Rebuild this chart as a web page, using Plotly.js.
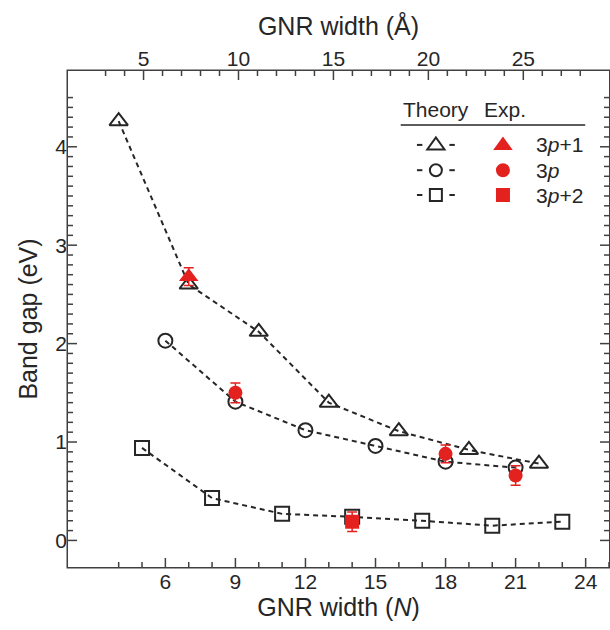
<!DOCTYPE html>
<html>
<head>
<meta charset="utf-8">
<script src="https://cdn.plot.ly/plotly-3.0.1.min.js"></script>
<style>
html,body{margin:0;padding:0;background:#fff;}
#chart{width:610px;height:630px;}
</style>
</head>
<body>
<div id="chart"></div>
<script>
// ---- data ----
const nTri = [4, 7, 10, 13, 16, 19, 22];
const gapTri = [4.26, 2.60, 2.12, 1.40, 1.11, 0.92, 0.78];
const nCirc = [6, 9, 12, 15, 18, 21];
const gapCirc = [2.03, 1.41, 1.12, 0.96, 0.80, 0.74];
const nSq = [5, 8, 11, 14, 17, 20, 23];
const gapSq = [0.94, 0.43, 0.27, 0.24, 0.20, 0.15, 0.19];

const expTriN = [7];
const expTriGap = [2.68];
const expTriErr = [0.09];
const expCircN = [9, 18, 21];
const expCircGap = [1.50, 0.88, 0.66];
const expCircErr = [0.10, 0.09, 0.10];
const expSqN = [14];
const expSqGap = [0.19];
const expSqErr = [0.10];

const xTicksN = [6, 9, 12, 15, 18, 21, 24];
const xTicksA = [5, 10, 15, 20, 25];
const yTicks = [0, 1, 2, 3, 4];

// ---- style ----
const RED = '#e3221f';
const INK = '#262626';
const AXC = '#404040';
const FONT = 'Liberation Sans, Arial, sans-serif';
const xRange = [1.83, 25.0];
const angPerN = 1.2297; // width(Å) = (N-1)*1.2297
const x2Range = xRange.map(v => (v - 1) * angPerN);
const yRange = [-0.27, 4.77];

function range(a, b, s) { const r = []; for (let v = a; v <= b + 1e-9; v += s) r.push(Math.round(v * 100) / 100); return r; }
const minorN = range(4, 25, 1).filter(v => xTicksN.indexOf(v) < 0);
const minorA = range(3, 28, 1).filter(v => xTicksA.indexOf(v) < 0);
const minorY = range(0.1, 4.5, 0.1).filter(v => Math.abs(v - Math.round(v)) > 1e-6);

const dashStyle = {color: INK, width: 2, dash: '5px,4px'};
function theory(x, y, sym, size) {
  return {x: x, y: y, type: 'scatter', mode: 'lines+markers', line: dashStyle,
    marker: {symbol: sym, size: size, color: INK, line: {color: INK, width: 2}},
    hoverinfo: 'skip', showlegend: false};
}
function exper(x, y, e, sym, size) {
  return {x: x, y: y, type: 'scatter', mode: 'markers',
    marker: {symbol: sym, size: size, color: RED},
    error_y: {type: 'data', array: e, visible: true, color: RED, thickness: 1.5, width: 5},
    hoverinfo: 'skip', showlegend: false};
}

const data = [
  theory(nTri, gapTri, 'triangle-up-open', 16),
  theory(nCirc, gapCirc, 'circle-open', 14),
  theory(nSq, gapSq, 'square-open', 14),
  exper(expTriN, expTriGap, expTriErr, 'triangle-up', 17),
  exper(expCircN, expCircGap, expCircErr, 'circle', 14),
  exper(expSqN, expSqGap, expSqErr, 'square', 14),
  {x: [], y: [], xaxis: 'x2', yaxis: 'y', type: 'scatter', showlegend: false}
];

// ---- plot frame and tick marks (shapes on the axes' own scales) ----
const PW = 541, PH = 496; // plot area size in px
const fx = 0.75 / PW, fy = 0.75 / PH;
const MAJ = 9, MIN = 5;
const tickLine = {color: AXC, width: 1.5};
const shapes = [
  {type: 'rect', xref: 'paper', yref: 'paper', x0: -fx, x1: 1 + fx, y0: -fy, y1: 1 + fy, line: {color: AXC, width: 1.5}, fillcolor: 'rgba(0,0,0,0)', layer: 'above'}
];
function xTick(ref, v, len, top) {
  shapes.push({type: 'line', xref: ref, yref: 'paper', x0: v, x1: v,
    y0: top ? 1 : 0, y1: top ? 1 - len / PH : len / PH, line: tickLine, layer: 'above'});
}
function yTick(v, len, right) {
  shapes.push({type: 'line', xref: 'paper', yref: 'y', y0: v, y1: v,
    x0: right ? 1 : 0, x1: right ? 1 - len / PW : len / PW, line: tickLine, layer: 'above'});
}
xTicksN.forEach(v => xTick('x', v, MAJ, false));
minorN.forEach(v => xTick('x', v, MIN, false));
xTicksA.forEach(v => xTick('x2', v, MAJ, true));
minorA.forEach(v => xTick('x2', v, MIN, true));
[false, true].forEach(r => {
  yTicks.forEach(v => yTick(v, MAJ, r));
  minorY.forEach(v => yTick(v, MIN, r));
});

// ---- legend, drawn with shapes and annotations in paper coordinates ----
const L = {xTheory: 0.680, xDashA: [0.645, 0.655], xDashB: [0.705, 0.715], xExp: 0.804, xText: 0.861,
  rows: [0.851, 0.800, 0.750], header: 0.922, rule: 0.891};
const labels = ['3<i>p</i>+1', '3<i>p</i>', '3<i>p</i>+2'];
function tri(cx, cy, w, h) {
  const dx = w / 2 / PW, up = h * 0.62 / PH, dn = h * 0.38 / PH;
  return `M${cx - dx},${cy - dn} L${cx + dx},${cy - dn} L${cx},${cy + up} Z`;
}
function glyph(kind, cx, cy, sz, filled) {
  const line = {color: filled ? RED : INK, width: filled ? 0 : 2};
  const base = {xref: 'paper', yref: 'paper', line: line, fillcolor: filled ? RED : 'rgba(0,0,0,0)', layer: 'above'};
  const rx = sz / 2 / PW, ry = sz / 2 / PH;
  if (kind === 0) return Object.assign(base, {type: 'path', path: tri(cx, cy, sz * 1.15, sz * 0.8)});
  if (kind === 1) return Object.assign(base, {type: 'circle', x0: cx - rx, x1: cx + rx, y0: cy - ry, y1: cy + ry});
  return Object.assign(base, {type: 'rect', x0: cx - rx, x1: cx + rx, y0: cy - ry, y1: cy + ry});
}
shapes.push({type: 'line', xref: 'paper', yref: 'paper', x0: 0.615, x1: 0.956, y0: L.rule, y1: L.rule,
  line: {color: INK, width: 1.5}});
const annotations = [
  {xref: 'paper', yref: 'paper', x: 0.615, y: L.header, xanchor: 'left', yanchor: 'middle', text: 'Theory', showarrow: false, font: {family: FONT, size: 21, color: INK}},
  {xref: 'paper', yref: 'paper', x: 0.765, y: L.header, xanchor: 'left', yanchor: 'middle', text: 'Exp.', showarrow: false, font: {family: FONT, size: 21, color: INK}}
];
labels.forEach((t, i) => {
  const yy = L.rows[i];
  [L.xDashA, L.xDashB].forEach(d => shapes.push({type: 'line', xref: 'paper', yref: 'paper', x0: d[0], x1: d[1], y0: yy, y1: yy, line: {color: INK, width: 2}}));
  shapes.push(glyph(i, L.xTheory, yy, i === 0 ? 15 : 12, false));
  shapes.push(glyph(i, L.xExp, yy, i === 0 ? 17 : 14, true));
  annotations.push({xref: 'paper', yref: 'paper', x: L.xText, y: yy, xanchor: 'left', yanchor: 'middle', text: t, showarrow: false, font: {family: FONT, size: 21, color: INK}});
});

const axisCommon = {showline: false, ticks: '', showgrid: false, zeroline: false,
  tickfont: {family: FONT, size: 21, color: INK}};

const layout = {
  width: 610, height: 630,
  margin: {l: 68, r: 1, t: 71, b: 63, pad: 0},
  paper_bgcolor: '#fff', plot_bgcolor: '#fff',
  font: {family: FONT, color: INK},
  showlegend: false,
  shapes: shapes,
  annotations: annotations,
  xaxis: Object.assign({}, axisCommon, {range: xRange, tickmode: 'array', tickvals: xTicksN,
    title: {text: 'GNR width (<i>N</i>)', font: {family: FONT, size: 25, color: INK}, standoff: 2}}),
  xaxis2: Object.assign({}, axisCommon, {range: x2Range, overlaying: 'x', side: 'top', anchor: 'y', tickmode: 'array', tickvals: xTicksA,
    title: {text: 'GNR width (Å)', font: {family: FONT, size: 25, color: INK}, standoff: 4}}),
  yaxis: Object.assign({}, axisCommon, {range: yRange, tickmode: 'array', tickvals: yTicks,
    title: {text: 'Band gap (eV)', font: {family: FONT, size: 25, color: INK}, standoff: 10}})
};

Plotly.newPlot('chart', data, layout, {staticPlot: true, displayModeBar: false});
</script>
</body>
</html>
